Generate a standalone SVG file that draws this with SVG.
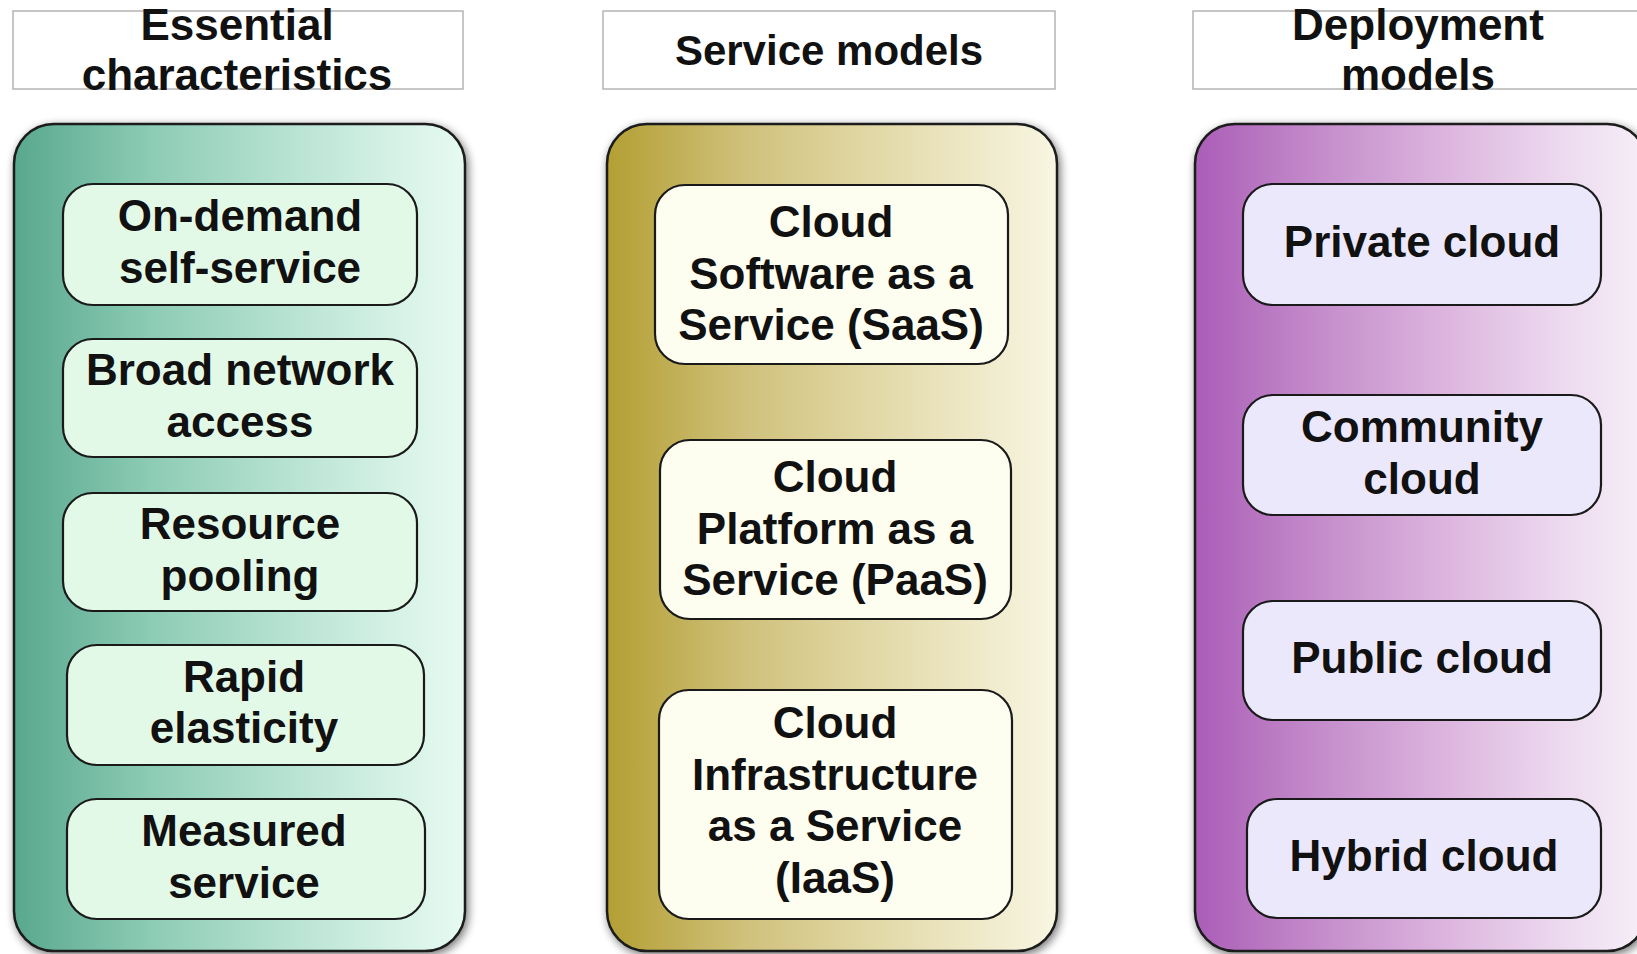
<svg xmlns="http://www.w3.org/2000/svg" width="1637" height="954" viewBox="0 0 1637 954">
  <defs>
    <linearGradient id="gTeal" x1="0" y1="0" x2="1" y2="0">
      <stop offset="0" stop-color="#58a88e"/>
      <stop offset="0.3" stop-color="#8ccbb4"/>
      <stop offset="0.6" stop-color="#b6e2d1"/>
      <stop offset="0.85" stop-color="#d6f2e6"/>
      <stop offset="1" stop-color="#e6faf1"/>
    </linearGradient>
    <linearGradient id="gGold" x1="0" y1="0" x2="1" y2="0">
      <stop offset="0" stop-color="#b39f33"/>
      <stop offset="0.3" stop-color="#cfc07a"/>
      <stop offset="0.6" stop-color="#e2d9a8"/>
      <stop offset="0.85" stop-color="#f0ebcd"/>
      <stop offset="1" stop-color="#f8f6e2"/>
    </linearGradient>
    <linearGradient id="gPurple" x1="0" y1="0" x2="1" y2="0">
      <stop offset="0" stop-color="#ab5db7"/>
      <stop offset="0.3" stop-color="#c690cc"/>
      <stop offset="0.55" stop-color="#dcb4de"/>
      <stop offset="0.8" stop-color="#ecd8ee"/>
      <stop offset="1" stop-color="#f6eff8"/>
    </linearGradient>
    <filter id="shadow" x="-10%" y="-10%" width="120%" height="120%">
      <feGaussianBlur in="SourceAlpha" stdDeviation="5"/>
      <feOffset dx="2" dy="3" result="b"/>
      <feComponentTransfer><feFuncA type="linear" slope="0.55"/></feComponentTransfer>
      <feMerge><feMergeNode/><feMergeNode in="SourceGraphic"/></feMerge>
    </filter>
  </defs>
  <style>
    text { font-family: "Liberation Sans", Arial, sans-serif; font-weight: bold; font-size: 44px; fill: #111; text-anchor: middle; }
    .hdr { fill: #ffffff; stroke: #b4b4b4; stroke-width: 1.5; }
    .panel { stroke: #1a1a1a; stroke-width: 2.5; filter: url(#shadow); }
    .item { stroke: #1a1a1a; stroke-width: 2.2; }
    .teal { fill: #e3f9e8; }
    .gold { fill: #fdfdf0; }
    .lav { fill: #ebe8fb; }
  </style>
  <rect width="1637" height="954" fill="#ffffff"/>

  <!-- Column headings -->
  <g id="hdr-essential">
    <rect class="hdr" x="13" y="11" width="450" height="78"/>
    <text x="237" y="40">Essential</text>
    <text x="237" y="90">characteristics</text>
  </g>
  <g id="hdr-service">
    <rect class="hdr" x="603" y="11" width="452" height="78"/>
    <text x="829" y="65" style="font-size:42px">Service models</text>
  </g>
  <g id="hdr-deployment">
    <rect class="hdr" x="1193" y="11" width="452" height="78"/>
    <text x="1418" y="40">Deployment</text>
    <text x="1418" y="90">models</text>
  </g>

  <!-- Panels -->
  <g id="panel-essential">
    <rect class="panel" x="14" y="124" width="451" height="827" rx="40" fill="url(#gTeal)"/>
  </g>
  <g id="panel-service">
    <rect class="panel" x="607" y="124" width="450" height="827" rx="40" fill="url(#gGold)"/>
  </g>
  <g id="panel-deployment">
    <rect class="panel" x="1195" y="124" width="452" height="827" rx="40" fill="url(#gPurple)"/>
  </g>

  <!-- Essential characteristics -->
  <g id="on-demand">
    <rect class="item teal" x="63" y="184" width="354" height="121" rx="30"/>
    <text x="240" y="231">On-demand</text>
    <text x="240" y="283">self-service</text>
  </g>
  <g id="broad-network">
    <rect class="item teal" x="63" y="339" width="354" height="118" rx="30"/>
    <text x="240" y="385">Broad network</text>
    <text x="240" y="437">access</text>
  </g>
  <g id="resource-pooling">
    <rect class="item teal" x="63" y="493" width="354" height="118" rx="30"/>
    <text x="240" y="539">Resource</text>
    <text x="240" y="591">pooling</text>
  </g>
  <g id="rapid-elasticity">
    <rect class="item teal" x="67" y="645" width="357" height="120" rx="30"/>
    <text x="244" y="692">Rapid</text>
    <text x="244" y="743">elasticity</text>
  </g>
  <g id="measured-service">
    <rect class="item teal" x="67" y="799" width="358" height="120" rx="30"/>
    <text x="244" y="846">Measured</text>
    <text x="244" y="898">service</text>
  </g>

  <!-- Service models -->
  <g id="saas">
    <rect class="item gold" x="655" y="185" width="353" height="179" rx="30"/>
    <text x="831" y="237">Cloud</text>
    <text x="831" y="289">Software as a</text>
    <text x="831" y="340">Service (SaaS)</text>
  </g>
  <g id="paas">
    <rect class="item gold" x="660" y="440" width="351" height="179" rx="30"/>
    <text x="835" y="492">Cloud</text>
    <text x="835" y="544">Platform as a</text>
    <text x="835" y="595">Service (PaaS)</text>
  </g>
  <g id="iaas">
    <rect class="item gold" x="659" y="690" width="353" height="229" rx="30"/>
    <text x="835" y="738">Cloud</text>
    <text x="835" y="790">Infrastructure</text>
    <text x="835" y="841">as a Service</text>
    <text x="835" y="893">(IaaS)</text>
  </g>

  <!-- Deployment models -->
  <g id="private-cloud">
    <rect class="item lav" x="1243" y="184" width="358" height="121" rx="30"/>
    <text x="1422" y="257">Private cloud</text>
  </g>
  <g id="community-cloud">
    <rect class="item lav" x="1243" y="395" width="358" height="120" rx="30"/>
    <text x="1422" y="442">Community</text>
    <text x="1422" y="494">cloud</text>
  </g>
  <g id="public-cloud">
    <rect class="item lav" x="1243" y="601" width="358" height="119" rx="30"/>
    <text x="1422" y="673">Public cloud</text>
  </g>
  <g id="hybrid-cloud">
    <rect class="item lav" x="1247" y="799" width="354" height="119" rx="30"/>
    <text x="1424" y="871">Hybrid cloud</text>
  </g>

  <!-- No connectors are drawn between the panels -->
  <g id="connectors"/>
</svg>
